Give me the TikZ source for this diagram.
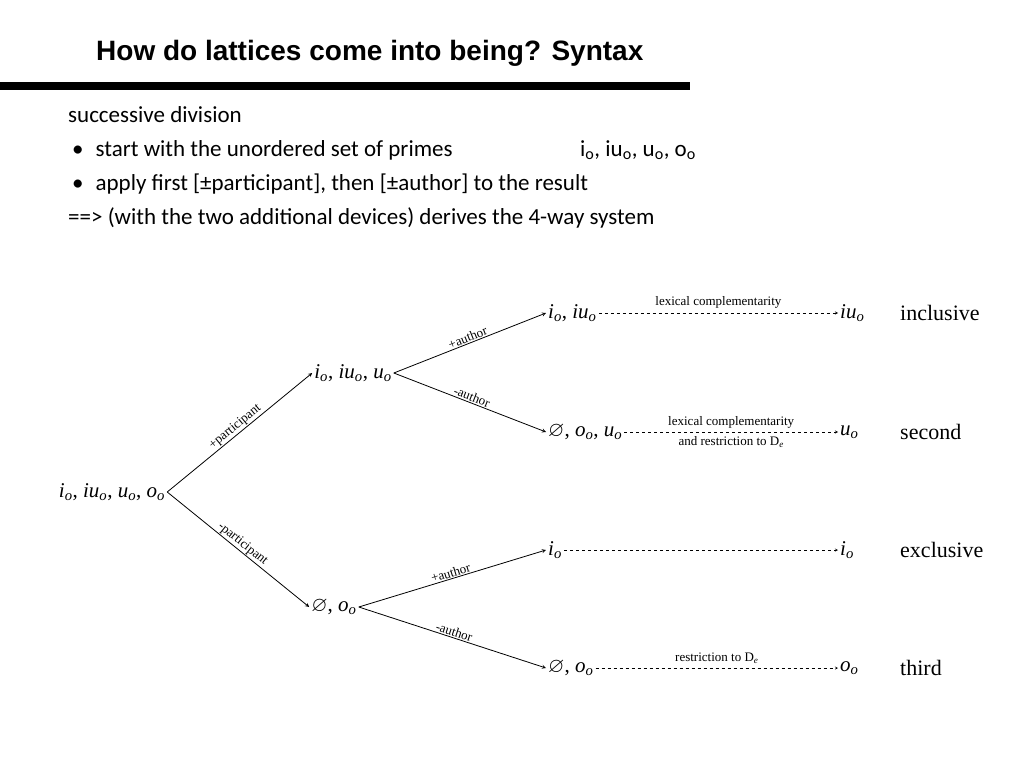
\documentclass[tikz,border=0pt]{standalone}
\usepackage{amssymb}
\usepackage{fontspec}
\setmainfont{Liberation Serif}
\newfontfamily\titlefont{Liberation Sans}
\newfontfamily\bodyfont{Carlito}
\usetikzlibrary{calc}

\newcommand{\ix}[1]{\textit{#1}\textsubscript{\textit{o}}}

\begin{document}
\begin{tikzpicture}
[x=1pt,y=-1pt,>=stealth,
set/.style={font=\fontsize{21}{24}\selectfont,inner sep=2pt},
cat/.style={font=\fontsize{22}{24}\selectfont,anchor=west,inner sep=0pt},
lab/.style={font=\fontsize{13}{14}\selectfont,inner sep=1pt},
body/.style={font=\bodyfont\fontsize{23}{26}\selectfont,anchor=base west,inner sep=0pt},]

\useasboundingbox (0,0) rectangle (1024,768);

%Title and bar
\node (T) at (96,60)[anchor=base west,inner sep=0pt,font=\titlefont\bfseries\fontsize{28}{30}\selectfont] {How do lattices come into being? Syntax};
\fill (0,82) rectangle (690,90);

%Text lines
\node (L1) at (68,122)[body] {successive division};
\node (L2) at (72,156)[body] {\textbullet\hspace{12pt}start with the unordered set of primes};
\node (P) at (580,156)[body] {i\textsubscript{o}, iu\textsubscript{o}, u\textsubscript{o}, o\textsubscript{o}};
\node (L3) at (72,190)[body] {\textbullet\hspace{12pt}apply first [±participant], then [±author] to the result};
\node (L4) at (68,224)[body] {==> (with the two additional devices) derives the 4-way system};

%Tree nodes
\node (R) at (112,492)[set] {\ix{i}, \ix{iu}, \ix{u}, \ix{o}};
\node (A) at (353,373)[set] {\ix{i}, \ix{iu}, \ix{u}};
\node (B) at (334,607)[set] {$\varnothing$, \ix{o}};
\node (A1) at (546,313)[set,anchor=west] {\ix{i}, \ix{iu}};
\node (A2) at (546,432)[set,anchor=west] {$\varnothing$, \ix{o}, \ix{u}};
\node (B1) at (546,550)[set,anchor=west] {\ix{i}};
\node (B2) at (546,668)[set,anchor=west] {$\varnothing$, \ix{o}};

%Results
\node (C1) at (838,313)[set,anchor=west] {\ix{iu}};
\node (C2) at (838,432)[set,anchor=west] {\ix{u}};
\node (C3) at (838,550)[set,anchor=west] {\ix{i}};
\node (C4) at (838,668)[set,anchor=west] {\ix{o}};

%Categories
\node (K1) at (900,313)[cat] {inclusive};
\node (K2) at (900,432)[cat] {second};
\node (K3) at (900,550)[cat] {exclusive};
\node (K4) at (900,668)[cat] {third};

%Branches
\draw[->,thick] (R.east) -- node[lab,sloped,above] {+participant} (A.west);
\draw[->,thick] (R.east) -- node[lab,sloped,above] {-participant} (B.west);
\draw[->,thick] (A.east) -- node[lab,sloped,above] {+author} (A1.west);
\draw[->,thick] (A.east) -- node[lab,sloped,above] {-author} (A2.west);
\draw[->,thick] (B.east) -- node[lab,sloped,above] {+author} (B1.west);
\draw[->,thick] (B.east) -- node[lab,sloped,above] {-author} (B2.west);

%Dashed arrows
\draw[->,dashed] (A1.east) -- node[lab,above=3pt] {lexical complementarity} (C1.west);
\draw[->,dashed] (A2.east) -- node[lab,above=3pt] {lexical complementarity} node[lab,below=3pt] {and restriction to D\textsubscript{\textit{e}}} (C2.west);
\draw[->,dashed] (B1.east) -- (C3.west);
\draw[->,dashed] (B2.east) -- node[lab,above=3pt] {restriction to D\textsubscript{\textit{e}}} (C4.west);

\end{tikzpicture}
\end{document}
